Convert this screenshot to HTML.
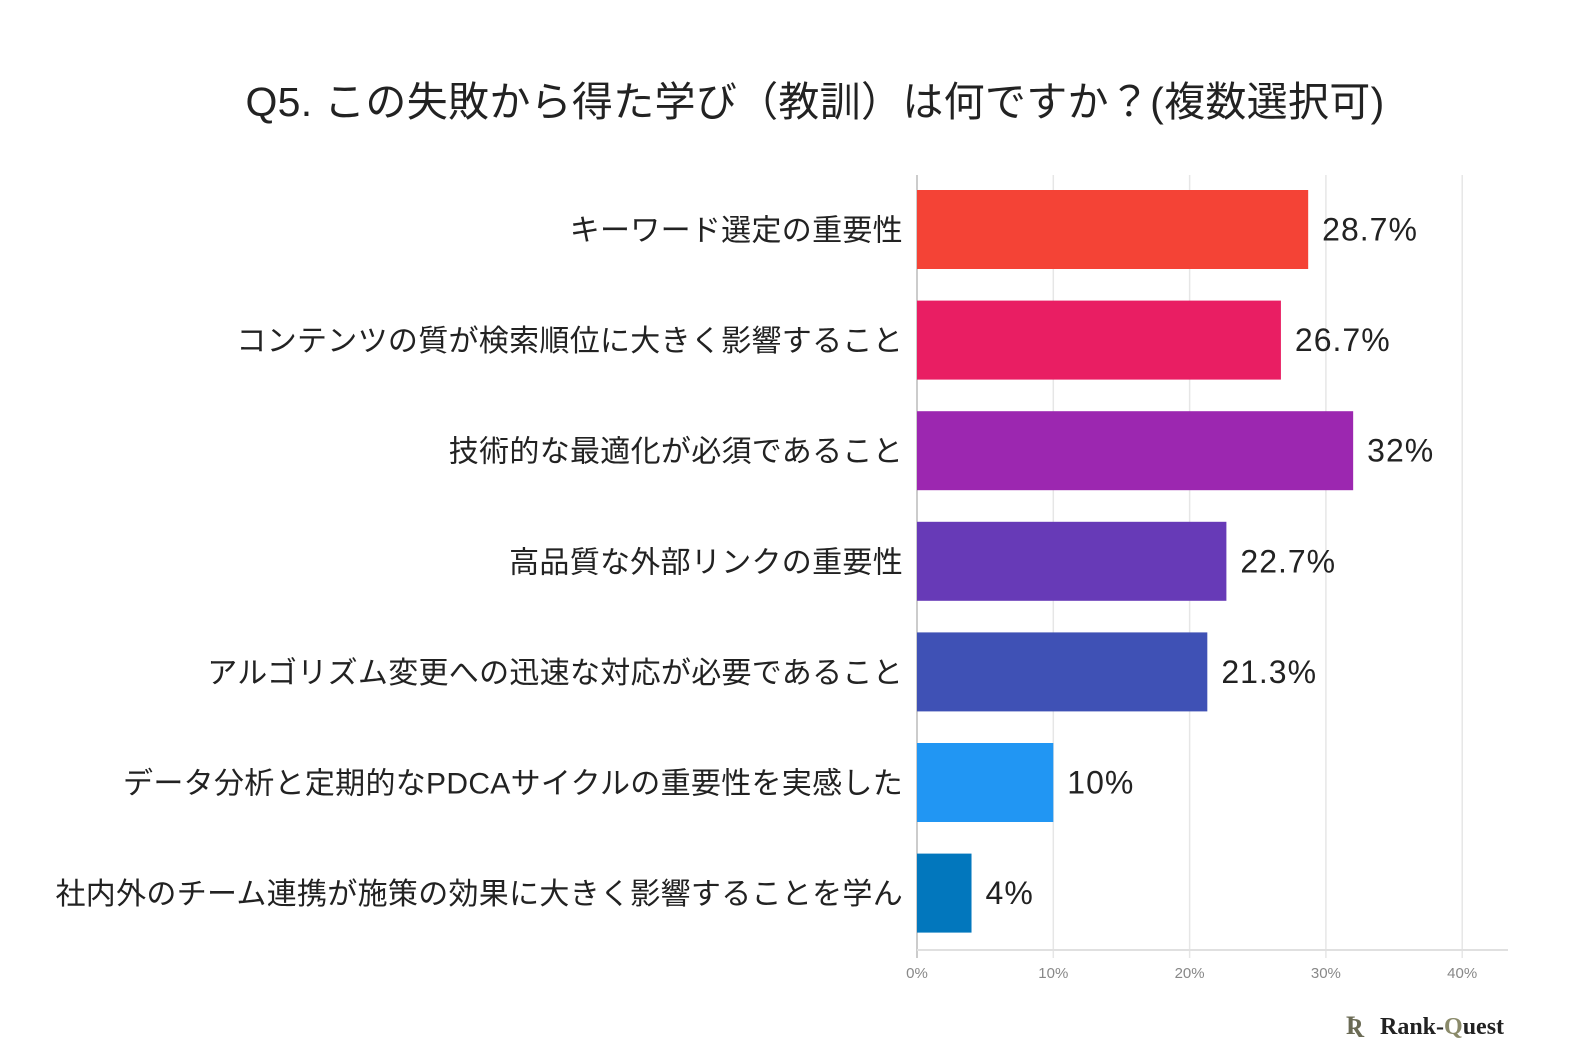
<!DOCTYPE html>
<html><head><meta charset="utf-8"><style>
body{margin:0;background:#fff;width:1572px;height:1052px;overflow:hidden;font-family:"Liberation Sans","Noto Sans CJK JP",sans-serif}
</style></head><body>
<svg id="chart" width="1572" height="1052" xmlns="http://www.w3.org/2000/svg" style="display:block">
<text x="815" y="116" text-anchor="middle" font-size="41" letter-spacing="0.3" fill="#222" font-family="Liberation Sans, Noto Sans CJK JP, sans-serif">Q5. この失敗から得た学び（教訓）は何ですか？(複数選択可)</text>
<g id="grid"></g><g id="bars"></g>
<g>
<text x="1346" y="1034" font-size="26" font-weight="bold" fill="#6b6b55" font-family="Liberation Serif, serif">Ʀ</text>
<text x="1380" y="1034" font-size="24" font-weight="bold" fill="#222" font-family="Liberation Serif, serif">Rank-<tspan fill="#8a8a6a">Q</tspan>uest</text>
</g>
</svg>
<script>
const categories=["キーワード選定の重要性","コンテンツの質が検索順位に大きく影響すること","技術的な最適化が必須であること","高品質な外部リンクの重要性","アルゴリズム変更への迅速な対応が必要であること","データ分析と定期的なPDCAサイクルの重要性を実感した","社内外のチーム連携が施策の効果に大きく影響することを学ん"];
const values=[28.7,26.7,32,22.7,21.3,10,4];
const valueLabels=["28.7%","26.7%","32%","22.7%","21.3%","10%","4%"];
const ticks=[0,10,20,30,40];
const tickLabels=["0%","10%","20%","30%","40%"];
const colors=["#F44336","#E91E63","#9C27B0","#673AB7","#3F51B5","#2196F3","#0277BD"];
const NS="http://www.w3.org/2000/svg";
const x0=917,pxPer=13.63,top0=190,pitch=110.6,bh=79,axisY=950;
const xs=v=>x0+v*pxPer;
const ys=i=>top0+i*pitch;
function mk(t,a){const e=document.createElementNS(NS,t);for(const k in a)e.setAttribute(k,a[k]);return e;}
const grid=document.getElementById('grid'),bars=document.getElementById('bars');
ticks.forEach((t,i)=>{
 const l=mk('line',{x1:xs(t),x2:xs(t),y1:175,y2:958,stroke:i==0?'#bbb':'#e6e6e6','stroke-width':1.5});
 
 
 grid.appendChild(l);
 const tx=mk('text',{x:xs(t),y:978,'text-anchor':'middle','font-size':15,fill:'#888'});
 tx.textContent=tickLabels[i];
 
 
 grid.appendChild(tx);
});
const ax=mk('line',{x1:x0,x2:1508,y1:axisY,y2:axisY,stroke:'#e0e0e0','stroke-width':2});


grid.appendChild(ax);
values.forEach((v,i)=>{
 const r=mk('rect',{x:x0,y:ys(i),width:xs(v)-x0,height:bh,fill:colors[i]});
 
 
 bars.appendChild(r);
 const c=mk('text',{x:903,y:ys(i)+bh/2+11,'text-anchor':'end','font-size':30,'letter-spacing':0.3,fill:'#222'});
 c.textContent=categories[i];
 
 
 bars.appendChild(c);
 const vl=mk('text',{x:xs(v)+14,y:ys(i)+bh/2+11,'font-size':32,'letter-spacing':1,fill:'#222'});
 vl.textContent=valueLabels[i];
 
 
 bars.appendChild(vl);
});
</script>
</body></html>
